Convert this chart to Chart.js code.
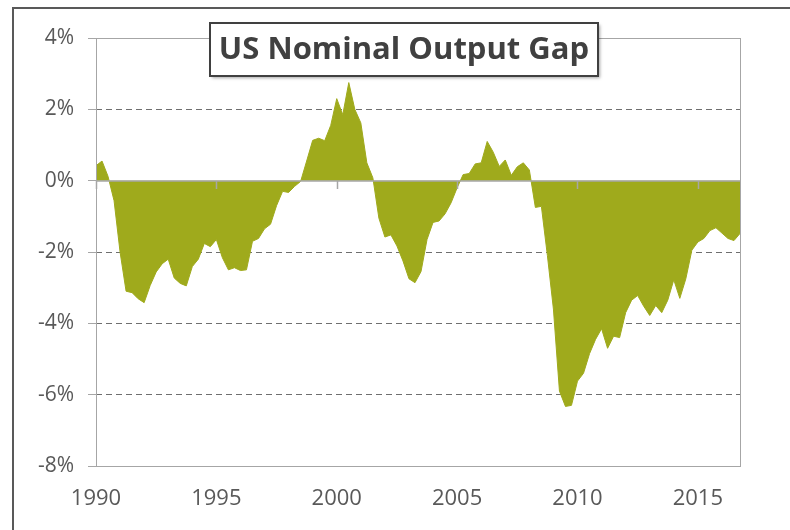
<!DOCTYPE html>
<html>
<head>
<meta charset="utf-8">
<script src="https://cdn.jsdelivr.net/npm/chart.js@4.4.0/dist/chart.umd.min.js"></script>
<style>
html, body { margin: 0; padding: 0; background: #fff; overflow: hidden; }
#wrap { position: relative; width: 790px; height: 530px; }
#frame { position: absolute; left: 12px; top: 7px; width: 800px; height: 540px; border: 2px solid #595959; box-sizing: border-box; pointer-events: none; }
canvas { position: absolute; left: 0; top: 0; }
</style>
</head>
<body>
<div id="wrap">
  <canvas id="chartGap" width="790" height="530"></canvas>
  <div id="frame"></div>
</div>
<script>
// ecart de production nominal US, trimestriel, 1990T1 -> 2016T4 (en %)
const startYear = 1990;
const gapValues = [
  0.42, 0.55, 0.12, -0.56, -2.00, -3.10, -3.14, -3.31, -3.42, -2.94,
  -2.56, -2.33, -2.20, -2.73, -2.88, -2.95, -2.41, -2.20, -1.76, -1.85,
  -1.65, -2.16, -2.50, -2.44, -2.52, -2.50, -1.70, -1.62, -1.35, -1.22,
  -0.70, -0.30, -0.33, -0.16, -0.02, 0.55, 1.13, 1.19, 1.12, 1.55,
  2.30, 1.85, 2.75, 2.00, 1.62, 0.50, 0.08, -1.05, -1.58, -1.52,
  -1.83, -2.25, -2.75, -2.86, -2.55, -1.65, -1.17, -1.13, -0.93, -0.62,
  -0.20, 0.17, 0.20, 0.47, 0.50, 1.10, 0.80, 0.40, 0.58, 0.15,
  0.39, 0.50, 0.30, -0.75, -0.72, -2.10, -3.60, -5.90, -6.33, -6.30,
  -5.62, -5.40, -4.85, -4.45, -4.15, -4.70, -4.36, -4.40, -3.70, -3.35,
  -3.22, -3.52, -3.78, -3.50, -3.70, -3.35, -2.78, -3.30, -2.75, -1.95,
  -1.72, -1.62, -1.40, -1.32, -1.47, -1.62, -1.68, -1.48
];
const quarters = gapValues.map((v, i) => startYear + i / 4);
const xTicks = [1990, 1995, 2000, 2005, 2010, 2015];
const yTicks = [-8, -6, -4, -2, 0, 2, 4];
const chartTitle = 'US Nominal Output Gap';

const labelColor = '#595959';
const axisGrey = '#a6a6a6';

// cadre, axe du zero avec graduations, encadre du titre
const excelLook = {
  id: 'excelLook',
  afterDatasetsDraw(chart) {
    const ctx = chart.ctx, a = chart.chartArea;
    const xs = chart.scales.x, ys = chart.scales.y;
    ctx.save();
    ctx.strokeStyle = axisGrey;
    ctx.lineWidth = 1;
    ctx.strokeRect(Math.round(a.left) + 0.5, Math.round(a.top) + 0.5, Math.round(a.right - a.left), Math.round(a.bottom - a.top));
    const y0 = Math.round(ys.getPixelForValue(0));
    ctx.lineWidth = 1.5;
    ctx.beginPath();
    ctx.moveTo(a.left, y0);
    ctx.lineTo(a.right, y0);
    xTicks.forEach(t => {
      const px = Math.round(xs.getPixelForValue(t)) + 0.5;
      ctx.moveTo(px, y0);
      ctx.lineTo(px, y0 + 8);
    });
    ctx.stroke();
    ctx.restore();
  },
  afterDraw(chart) {
    const ctx = chart.ctx;
    const bx = 210, by = 23, bw = 388, bh = 53;
    ctx.save();
    ctx.shadowColor = 'rgba(0,0,0,0.35)';
    ctx.shadowBlur = 3;
    ctx.shadowOffsetX = 2;
    ctx.shadowOffsetY = 2;
    ctx.fillStyle = '#fff';
    ctx.fillRect(bx, by, bw, bh);
    ctx.shadowColor = 'transparent';
    ctx.strokeStyle = '#404040';
    ctx.lineWidth = 2;
    ctx.strokeRect(bx, by, bw, bh);
    ctx.fillStyle = '#404040';
    ctx.font = 'bold 31px "Open Sans"';
    ctx.textAlign = 'center';
    ctx.textBaseline = 'middle';
    ctx.fillText(chartTitle, bx + bw / 2, by + bh / 2 + 1);
    ctx.restore();
  }
};

new Chart(document.getElementById('chartGap'), {
  type: 'line',
  data: {
    datasets: [{
      label: chartTitle,
      data: quarters.map((q, i) => ({ x: q, y: gapValues[i] })),
      fill: 'origin',
      backgroundColor: '#9faa1c',
      borderColor: '#9faa1c',
      borderWidth: 1,
      pointRadius: 0,
      tension: 0
    }]
  },
  options: {
    responsive: false,
    animation: false,
    layout: { padding: { left: 0, right: 50, top: 38, bottom: 0 } },
    plugins: {
      legend: { display: false },
      tooltip: { enabled: false }
    },
    scales: {
      x: {
        type: 'linear',
        min: quarters[0],
        max: quarters[quarters.length - 1],
        afterBuildTicks: s => { s.ticks = xTicks.map(v => ({ value: v })); },
        afterFit: s => { s.height = 64; },
        grid: { display: false, drawTicks: false },
        border: { display: false },
        ticks: {
          autoSkip: false,
          maxRotation: 0,
          padding: 20,
          font: { family: 'Open Sans', size: 22 },
          color: labelColor,
          callback: v => String(v)
        }
      },
      y: {
        min: yTicks[0],
        max: yTicks[yTicks.length - 1],
        afterBuildTicks: s => { s.ticks = yTicks.map(v => ({ value: v })); },
        afterFit: s => { s.width = 96; },
        grid: {
          color: c => (c.tick && [0, 4, -8].includes(c.tick.value)) ? 'rgba(0,0,0,0)' : '#6f6f6f',
          lineWidth: 1,
          tickLength: 8,
          tickColor: axisGrey
        },
        border: { display: false, dash: [6, 4] },
        ticks: {
          padding: 14,
          font: { family: 'Open Sans', size: 21 },
          color: labelColor,
          callback: v => v + '%'
        }
      }
    }
  },
  plugins: [excelLook]
});
</script>
</body>
</html>
